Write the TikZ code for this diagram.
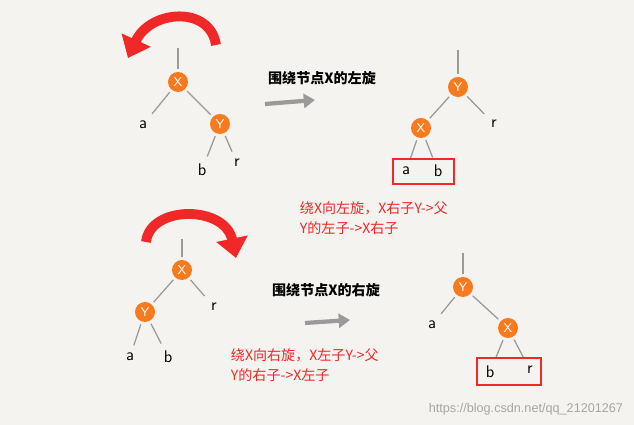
\documentclass[tikz,border=0pt]{standalone}
\usepackage{fontspec}
\setmainfont{Liberation Sans}
\newfontfamily\cjk{Noto Sans CJK SC}
\usetikzlibrary{arrows.meta}
\definecolor{bg}{HTML}{F4F3EF}
\definecolor{nd}{HTML}{F77B1E}
\definecolor{ln}{HTML}{9A9A9A}
\definecolor{rd}{HTML}{F02828}
\begin{document}
\begin{tikzpicture}[x=0.025cm,y=-0.025cm,
 nd/.style={circle,fill=nd,text=white,inner sep=0pt,minimum size=0.5cm,font=\sffamily\small},
 lf/.style={font=\sffamily\large},
 ed/.style={draw=ln,line width=0.9pt,shorten <=2pt,shorten >=2pt},
 rbox/.style={draw=rd,line width=1.6pt},
 rarc/.style={draw=rd,line width=7pt,-{Triangle[length=14pt,width=22pt]}},
 gar/.style={draw=ln,line width=3pt,-{Triangle[length=8pt,width=10pt]}},
 ttl/.style={font=\cjk\bfseries,anchor=center},
 rt/.style={font=\cjk,text=rd,anchor=west}]
\fill[bg] (0,0) rectangle (634,425);
\useasboundingbox (0,0) rectangle (634,425);
% top-left
\coordinate (t1) at (178,45);
\node[nd] (x1) at (178,82) {X};
\node[nd] (y1) at (220,124) {Y};
\node[lf] (a1) at (143,125) {a};
\node[lf] (b1) at (202,170) {b};
\node[lf] (r1) at (237,163) {r};
\draw[ed] (t1) -- (x1); \draw[ed] (x1) -- (a1); \draw[ed] (x1) -- (y1);
\draw[ed] (y1) -- (b1); \draw[ed] (y1) -- (r1);
\coordinate (ra1) at (216,45); \coordinate (rb1) at (128,58);
\draw[rarc] (ra1) .. controls (210,5) and (150,10) .. (rb1);
\node[ttl] (h1) at (322,78) {围绕节点X的左旋};
\coordinate (g1a) at (265,104); \coordinate (g1b) at (315,100);
\draw[gar] (g1a) -- (g1b);
% top-right
\coordinate (t2) at (458,47);
\node[nd] (y2) at (458,87) {Y};
\node[nd] (x2) at (421,128) {X};
\node[lf] (r2) at (494,124) {r};
\node[lf] (a2) at (406,171) {a};
\node[lf] (b2) at (438,171) {b};
\draw[ed] (t2) -- (y2); \draw[ed] (y2) -- (x2); \draw[ed] (y2) -- (r2);
\draw[ed] (x2) -- (a2); \draw[ed] (x2) -- (b2);
\node[rbox,minimum width=1.52cm,minimum height=0.62cm] (bx1) at (423.5,171.5) {};
\node[rt] (s1) at (295,208) {绕X向左旋，X右子Y->父};
\node[rt] (s2) at (295,228) {Y的左子->X右子};
% bottom-left
\coordinate (t3) at (182,236);
\node[nd] (x3) at (182,270) {X};
\node[nd] (y3) at (145,312) {Y};
\node[lf] (r3) at (214,307) {r};
\node[lf] (a3) at (130,357) {a};
\node[lf] (b3) at (168,357) {b};
\draw[ed] (t3) -- (x3); \draw[ed] (x3) -- (y3); \draw[ed] (x3) -- (r3);
\draw[ed] (y3) -- (a3); \draw[ed] (y3) -- (b3);
\coordinate (ra3) at (146,242); \coordinate (rb3) at (236,258);
\draw[rarc] (ra3) .. controls (150,205) and (225,205) .. (rb3);
\node[ttl] (h3) at (326,290) {围绕节点X的右旋};
\coordinate (g3a) at (305,323); \coordinate (g3b) at (350,320);
\draw[gar] (g3a) -- (g3b);
% bottom-right
\coordinate (t4) at (463,250);
\node[nd] (y4) at (463,287) {Y};
\node[nd] (x4) at (508,328) {X};
\node[lf] (a4) at (432,325) {a};
\node[lf] (b4) at (490,372) {b};
\node[lf] (r4) at (530,370) {r};
\draw[ed] (t4) -- (y4); \draw[ed] (y4) -- (x4); \draw[ed] (y4) -- (a4);
\draw[ed] (x4) -- (b4); \draw[ed] (x4) -- (r4);
\node[rbox,minimum width=1.6cm,minimum height=0.67cm] (bx2) at (509,371.5) {};
\node[rt] (s3) at (226,355) {绕X向右旋，X左子Y->父};
\node[rt] (s4) at (226,375) {Y的右子->X左子};
\node[font=\small,text=gray!70,anchor=east] (wm) at (628,409) {https://blog.csdn.net/qq\_21201267};
\end{tikzpicture}
\end{document}
